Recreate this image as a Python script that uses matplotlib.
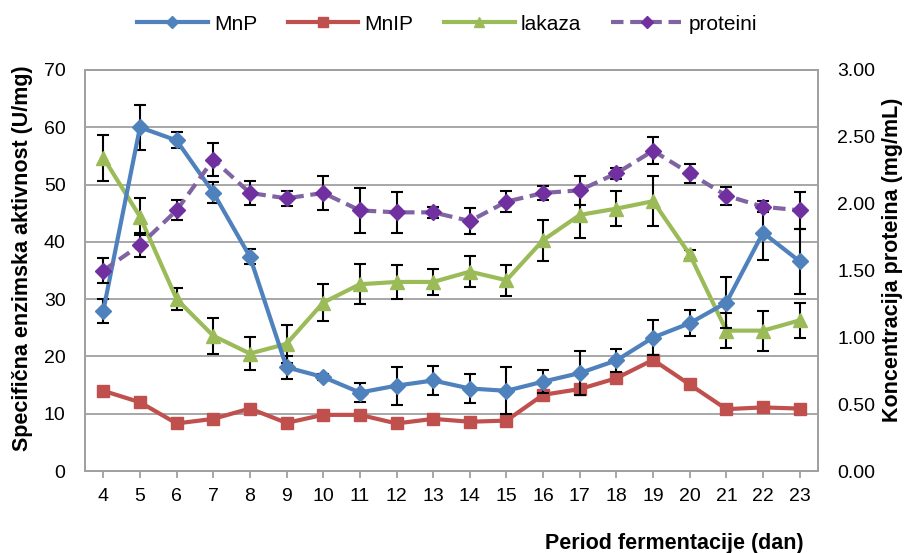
"""plot.py: enzyme activity and protein concentration over fermentation"""
import matplotlib
matplotlib.use("Agg")
import matplotlib.pyplot as plt
from matplotlib.lines import Line2D

plt.rcParams['font.family'] = ['Liberation Sans', 'DejaVu Sans']

days = list(range(4, 24))

mnp = [28.0, 60.0, 57.7, 48.6, 37.4, 18.1, 16.4, 13.7, 14.9, 15.8,
       14.4, 14.0, 15.6, 17.1, 19.3, 23.3, 25.8, 29.4, 41.6, 36.6]
mnp_err = [2.1, 3.9, 1.4, 1.9, 1.3, 2.0, 0.5, 1.7, 3.3, 2.5,
           2.6, 4.1, 2.0, 3.8, 2.0, 3.1, 2.3, 4.5, 4.7, 5.7]

mnip = [14.0, 12.0, 8.3, 9.1, 10.9, 8.4, 9.8, 9.8, 8.3, 9.1,
        8.6, 8.8, 13.3, 14.3, 16.2, 19.4, 15.1, 10.8, 11.1, 10.9]

lakaza = [54.7, 44.4, 30.0, 23.6, 20.5, 22.2, 29.4, 32.6, 33.0, 33.0,
          34.8, 33.3, 40.3, 44.7, 45.8, 47.1, 37.8, 24.5, 24.5, 26.3]
lakaza_err = [4.0, 3.2, 1.9, 3.1, 2.9, 3.3, 3.2, 3.5, 2.9, 2.2,
              2.7, 2.7, 3.6, 4.0, 3.1, 4.4, 0.8, 3.0, 3.5, 3.0]

proteini = [1.50, 1.69, 1.95, 2.33, 2.08, 2.04, 2.08, 1.95, 1.935, 1.935,
            1.87, 2.015, 2.08, 2.10, 2.227, 2.396, 2.227, 2.06, 1.977, 1.95]
proteini_err = [0.095, 0.09, 0.075, 0.125, 0.09, 0.055, 0.13, 0.17, 0.155, 0.04,
                0.095, 0.08, 0.05, 0.11, 0.04, 0.10, 0.07, 0.067, 0.04, 0.14]

left_ticks = list(range(0, 71, 10))
right_ticks = [0.0, 0.5, 1.0, 1.5, 2.0, 2.5, 3.0]

BLUE = '#4F81BD'
RED = '#C0504D'
GREEN = '#9BBB59'
PURPLE = '#8064A2'
PURPLE_DARK = '#7030A0'
GRID = '#A0A0A0'
DASH = (0, (3, 1.6))

fig = plt.figure(figsize=(9.07, 5.53), dpi=100)
ax = fig.add_axes([85 / 907, 82 / 553, 733 / 907, 401 / 553])
ax2 = ax.twinx()

x = list(range(len(days)))
err_kw = dict(ecolor='black', elinewidth=1.5, capsize=4, capthick=1.5)

ax.errorbar(x, mnp, yerr=mnp_err, color=BLUE, lw=3, marker='D', ms=8,
            zorder=4, **err_kw)
ax.plot(x, mnip, color=RED, lw=3, marker='s', ms=8, zorder=3)
ax.errorbar(x, lakaza, yerr=lakaza_err, color=GREEN, lw=3, marker='^', ms=10,
            zorder=3, **err_kw)
ax2.errorbar(x, proteini, yerr=proteini_err, color=PURPLE, lw=3, ls=DASH,
             marker='D', ms=8, mfc=PURPLE_DARK, mec=PURPLE_DARK, zorder=4, **err_kw)

ax.set_xlim(-0.5, len(days) - 0.5)
ax.set_ylim(0, 70)
ax2.set_ylim(0, 3)
ax.set_yticks(left_ticks)
ax2.set_yticks(right_ticks)
ax2.set_yticklabels(['%.2f' % t for t in right_ticks])
ax.set_xticks(x)
ax.set_xticklabels([str(d) for d in days])

ax.yaxis.grid(True, color=GRID, lw=1.3)
ax.set_axisbelow(True)
for a in (ax, ax2):
    for s in a.spines.values():
        s.set_color(GRID)
        s.set_linewidth(1.3)
ax.tick_params(axis='y', length=0, labelsize=14, pad=14)
ax2.tick_params(axis='y', length=0, labelsize=14, pad=14)
ax.tick_params(axis='x', length=5, color=GRID, width=1.3, labelsize=14, pad=7)

ax.set_ylabel('Specifična enzimska aktivnost (U/mg)', fontsize=15.5,
              fontweight='bold')
ax.yaxis.set_label_coords((33 - 85) / 733, (471 - 258) / 401)
ax2.set_ylabel('Koncentracija proteina (mg/mL)', fontsize=15.5,
               fontweight='bold')
ax2.yaxis.set_label_coords((882 - 85) / 733, (471 - 260) / 401)
fig.text(674 / 907, 1 - 543 / 553, 'Period fermentacije (dan)', fontsize=15.5,
         fontweight='bold', ha='center', va='center')

handles = [
    Line2D([], [], color=BLUE, lw=3, marker='D', ms=6),
    Line2D([], [], color=RED, lw=3, marker='s', ms=7),
    Line2D([], [], color=GREEN, lw=3, marker='^', ms=7),
    Line2D([], [], color=PURPLE, lw=3, ls=DASH, marker='D', ms=6,
           mfc=PURPLE_DARK, mec=PURPLE_DARK),
]
labels = ['MnP', 'MnIP', 'lakaza', 'proteini']
fig.legend(handles, labels, loc='center',
           bbox_to_anchor=(447 / 907, 1 - 24 / 553), ncol=4, frameon=False,
           fontsize=15, handlelength=3.4, columnspacing=1.45, handletextpad=0.3)

fig.savefig('out.png', dpi=100)
